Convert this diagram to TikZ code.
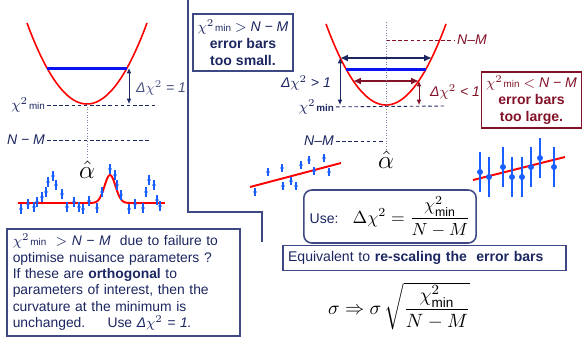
\documentclass[tikz,border=0pt]{standalone}
\usepackage{fontspec}
\usepackage{amsmath}
\setmainfont{Liberation Sans}
\usepackage{tikz}
\usetikzlibrary{positioning,arrows.meta}

\definecolor{navy}{RGB}{28,38,96}
\definecolor{boxline}{RGB}{62,72,132}
\definecolor{wine}{RGB}{130,18,40}
\definecolor{ptblue}{RGB}{25,95,255}
\definecolor{barblue}{RGB}{10,20,240}

\newcommand{\chimin}{$\chi^{2}$\kern0.6pt{\fontsize{5.6}{6}\selectfont\upshape min}}

\begin{document}
\begin{tikzpicture}[x=0.02cm, y=-0.02cm,
    font=\fontsize{8}{9.6}\selectfont,
    parab/.style={red, line width=0.9pt},
    bestline/.style={barblue, line width=1.7pt},
    guide/.style={dashed, dash pattern=on 2pt off 1.5pt, line width=0.5pt},
    centreline/.style={boxline!70, densely dotted, line width=0.5pt},
    dchi/.style={{Latex[length=3pt,width=2.6pt]}-{Latex[length=3pt,width=2.6pt]},
        line width=0.5pt},
    widthline/.style={{Latex[length=4.5pt,width=4pt]}-{Latex[length=4.5pt,width=4pt]},
        line width=1.3pt},
    lbl/.style={font=\fontsize{8}{9.6}\selectfont\itshape, inner sep=1pt},
    notebox/.style={draw, line width=0.9pt, align=center, inner sep=2pt,
        minimum width=2cm, minimum height=1.13cm,
        font=\fontsize{8}{9.6}\selectfont\bfseries},
    panelline/.style={draw=boxline, line width=0.9pt},
]
\useasboundingbox (0,0) rectangle (583,343);

% Left panel: parabola with Delta chi^2 = 1
\draw[parab] plot[domain=-60:60, samples=61] ({87+\x},{104-0.0225*\x*\x});
\coordinate (lmin) at (87,104);
\coordinate (lbarl) at (47,68);
\coordinate (lbarr) at (127,68);
\draw[bestline] (lbarl) -- (lbarr);
\coordinate (lup) at (129,68);
\coordinate (ldown) at (129,104);
\draw[dchi, navy] (lup) -- (ldown);
\node[lbl, navy!80, anchor=west] (ldelta) at (134,88) {Δ$\chi^{2}$ = 1};
\node[lbl, navy, anchor=east] (lchi) at (47,105) {\chimin};
\coordinate (lchiend) at (155,105);
\draw[guide, navy] (lchi) -- (lchiend);
\node[lbl, navy, anchor=east] (lnm) at (47,140) {N − M};
\coordinate (lnmend) at (150,140);
\draw[guide, navy] (lnm) -- (lnmend);
\node[font=\fontsize{14}{16}\selectfont, inner sep=1pt] (lhat) at (87,170) {$\hat{\alpha}$};
\draw[centreline] (lmin) -- (lhat.north);

% Left panel: data with a peak
\draw[red, line width=1.1pt] (18,203) -- (88,203)
    -- plot[domain=88:132, samples=45] (\x,{203-28*exp(-(\x-110)*(\x-110)/60)})
    -- (165,203);
\foreach \px/\py in {21/209, 28/204, 34/207, 37/202, 42/197, 46/192, 48/182,
        53/176, 56/185, 62/194, 67/207, 74/202, 79/207, 83/209, 89/201, 97/208,
        102/192, 110/169, 115/175, 117/185, 121/195, 129/209, 135/204, 143/208,
        146/192, 149/180, 154/185, 157/200, 160/206} {
    \draw[ptblue, line width=0.8pt] (\px,{\py-5}) -- (\px,{\py+5});
    \fill[ptblue] (\px,\py) circle[radius=1.1pt];
}

% Panel borders
\draw[panelline] (188,0) -- (188,212) -- (262,212) -- (262,242);

% Nuisance parameter note
\node[draw=boxline, line width=0.9pt, anchor=north west, text width=4.66cm-6.8pt,
    inner xsep=3.4pt, inner ysep=3pt, minimum height=2.14cm, align=left,
    text=navy, font=\fontsize{7.9}{9.3}\selectfont] (nuis) at (6,228)
    {\chimin\ \ $>$ \textit{N − M}\ \ due to failure to\\
     optimise nuisance parameters ?\\
     If these are \textbf{orthogonal} to\\
     parameters of interest, then the\\
     curvature at the minimum is\\
     unchanged.\hspace{1.6em}Use \textit{Δ$\chi^{2}$ = 1.}};

% Right panel: parabola with scaled error bars
\draw[parab] plot[domain=-60:60, samples=61] ({386+\x},{105-0.0225*\x*\x});
\coordinate (rmin) at (386,105);
\coordinate (rtop) at (386,22);
\coordinate (rnml) at (386,40);
\node[lbl, wine, anchor=west] (rnmhi) at (455,40) {N–M};
\draw[guide, wine] (rnml) -- (rnmhi);
\coordinate (nvl) at (340,58);
\coordinate (nvr) at (432,58);
\draw[widthline, navy] (nvl) -- (nvr);
\coordinate (bll) at (346,69);
\coordinate (blr) at (426,69);
\draw[bestline] (bll) -- (blr);
\coordinate (wnl) at (353,81);
\coordinate (wnr) at (419,81);
\draw[widthline, wine] (wnl) -- (wnr);
\coordinate (nvdown) at (340,105);
\draw[dchi, navy] (nvl) -- (nvdown);
\coordinate (wndown) at (419,105);
\draw[dchi, wine] (wnr) -- (wndown);
\node[lbl, navy, anchor=east] (rbig) at (333,83) {Δ$\chi^{2}$ > 1};
\node[lbl, wine, anchor=west] (rsmall) at (428,92) {Δ$\chi^{2}$ < 1};
\node[lbl, navy, anchor=east, font=\fontsize{8}{9.6}\selectfont\bfseries] (rchi) at (336,107) {\chimin};
\coordinate (rchiend) at (446,106);
\draw[guide, navy] (rchi) -- (rchiend);
\node[lbl, navy, anchor=east] (rnmlo) at (336,141) {N–M};
\coordinate (rnmend) at (385,141);
\draw[guide, navy] (rnmlo) -- (rnmend);
\node[font=\fontsize{14}{16}\selectfont, inner sep=1pt] (rhat) at (386,160) {$\hat{\alpha}$};
\draw[centreline] (rtop) -- (rhat.north);

% Notes on the two cases
\node[notebox, draw=boxline, text=navy] (toosmall) at (243,42.5)
    {{\mdseries\chimin{} $>$ \textit{N − M}}\\ error bars\\ too small.};
\node[notebox, draw=wine, text=wine] (toolarge) at (531.5,100)
    {{\mdseries\chimin{} $<$ \textit{N − M}}\\ error bars\\ too large.};

% Right panel: data, error bars too small
\draw[red, line width=1.1pt] (250,187) -- (341,163);
\foreach \px/\py in {255/192, 268/172, 282/168, 283/186, 291/181, 296/186,
        301/165, 309/160, 314/171, 324/158, 329/172} {
    \draw[ptblue, line width=0.8pt] (\px,{\py-4}) -- (\px,{\py+4});
    \fill[ptblue] (\px,\py) circle[radius=1.1pt];
}

% Right panel: data, error bars too large
\draw[red, line width=1.1pt] (473,180) -- (565,157);
\foreach \px/\py in {480/172, 489/177, 503/167, 512/177, 522/177, 531/167,
        540/158, 554/167} {
    \draw[ptblue, line width=1.1pt] (\px,{\py-20}) -- (\px,{\py+20});
    \fill[ptblue] (\px,\py) circle[radius=1.7pt];
}

% Rescaling
\node[draw=boxline, line width=0.9pt, rounded corners=4.5pt,
    minimum width=3.16cm, minimum height=1.06cm, text=navy] (use) at (390,216.5)
    {Use:\quad{\fontsize{10}{12}\selectfont\color{black}$\Delta\chi^{2}
     = \dfrac{\chi^{2}_{\mathrm{min}}}{N-M}$}};
\node[draw=boxline, line width=0.9pt, anchor=west, text width=5.66cm-6pt,
    inner xsep=3pt, minimum height=0.44cm, align=left, text=navy,
    font=\fontsize{8}{9.6}\selectfont] (equiv) at (282,258)
    {Equivalent to \textbf{re-scaling the\ \ error bars}};
\node[font=\fontsize{11}{13}\selectfont] (sigma) at (399,306)
    {$\sigma \Rightarrow \sigma\,\sqrt{\dfrac{\chi^{2}_{\mathrm{min}}}{N-M}}$};

\end{tikzpicture}
\end{document}
